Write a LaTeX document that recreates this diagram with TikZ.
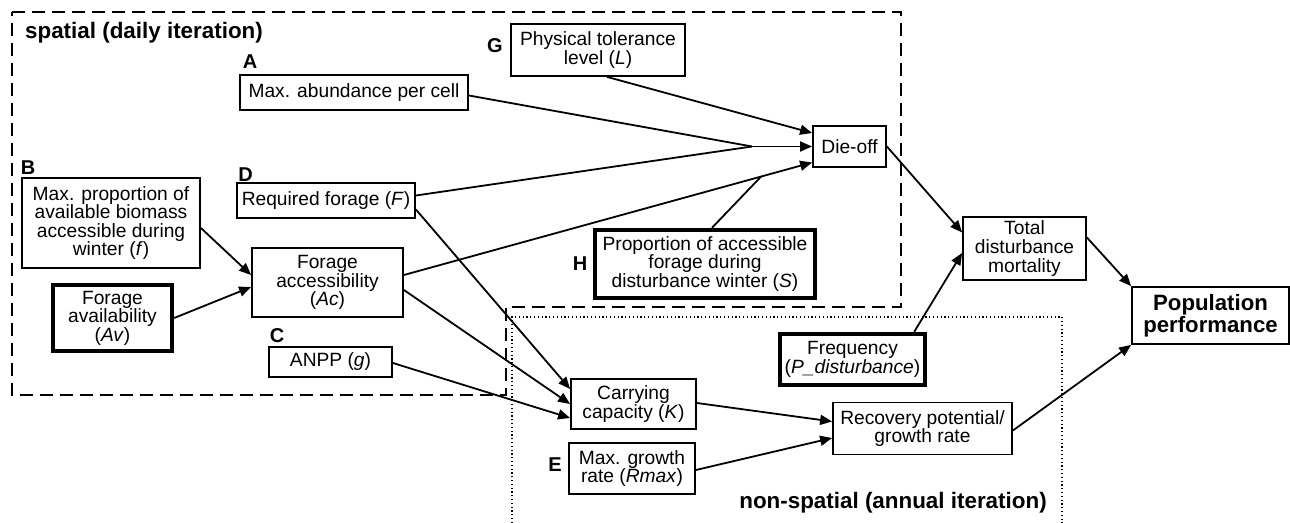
\documentclass[tikz,border=0pt]{standalone}
\usepackage{fontspec}
\setmainfont{Liberation Sans}
\usetikzlibrary{arrows.meta,calc}

\tikzset{
  box/.style={draw, line width=0.9pt, align=center, inner sep=1pt, font=\fontsize{9.6}{9.3}\selectfont},
  thickbox/.style={box, line width=2.2pt},
  arr/.style={-{Triangle[length=6pt,width=5pt]}, line width=0.9pt},
  tag/.style={font=\fontsize{10}{12}\selectfont\bfseries},
  region/.style={font=\fontsize{11.2}{13}\selectfont\bfseries},
}

\begin{document}
\begin{tikzpicture}[x=0.5pt,y=0.5pt,yscale=-1,xscale=1]
\useasboundingbox (0,0) rectangle (1290,523);
\draw [dashed, dash pattern=on 6.5pt off 3.5pt, line width=0.6pt] (12,12) -- (901,12) -- (901,307) -- (506,307) -- (506,395) -- (12,395) -- cycle;
\draw [dash pattern=on 0.6pt off 1.3pt, line width=0.6pt] (512,523) -- (512,317) -- (1062,317) -- (1062,523);
\node [region] (spatial) at (144,33) {spatial (daily iteration)};
\node [region] (nonspatial) at (893,503) {non-spatial (annual iteration)};

\node [box, minimum width=114pt, minimum height=17.5pt] (abund) at (354,92.5) {Max. abundance per cell};
\node [box, minimum width=87pt, minimum height=26pt] (tol) at (598,50) {Physical tolerance\\level (\textit{L})};
\node [box, minimum width=36.5pt, minimum height=20.5pt] (dieoff) at (849.5,146.5) {Die-off};
\node [box, minimum width=89pt, minimum height=45pt] (maxprop) at (111,223) {Max. proportion of\\available biomass\\accessible during\\winter (\textit{f})};
\node [box, minimum width=89pt, minimum height=17.5pt] (reqfor) at (326,200.5) {Required forage (\textit{F})};
\node [box, minimum width=75.5pt, minimum height=34.5pt] (access) at (327.5,282.5) {Forage\\accessibility\\(\textit{Ac})};
\node [thickbox, minimum width=59.5pt, minimum height=33pt] (avail) at (112.5,318) {Forage\\availability\\(\textit{Av})};
\node [box, minimum width=61.5pt, minimum height=15pt] (anpp) at (330.5,362) {ANPP (\textit{g})};
\node [thickbox, minimum width=110pt, minimum height=34pt] (snow) at (705,264) {Proportion of accessible\\forage during\\disturbance winter (\textit{S})};
\node [box, minimum width=62.5pt, minimum height=25pt] (carry) at (633.5,404) {Carrying\\capacity (\textit{K})};
\node [box, minimum width=63pt, minimum height=25.5pt] (rmax) at (632,468.5) {Max. growth\\rate (\textit{Rmax})};
\node [thickbox, minimum width=72.5pt, minimum height=25.5pt] (freq) at (852.5,359.5) {Frequency\\(\textit{P\_disturbance})};
\node [box, minimum width=89.5pt, minimum height=26pt] (recov) at (922.5,428.5) {Recovery potential/\\growth rate};
\node [box, minimum width=61.5pt, minimum height=31.5pt] (mort) at (1024.5,248.5) {Total\\disturbance\\mortality};
\node [box, minimum width=78.5pt, minimum height=28.5pt, font=\fontsize{11.1}{11.2}\selectfont\bfseries] (popperf) at (1210.5,315.5) {Population\\performance};

\node [tag] (tagA) at (250,62) {A};
\node [tag] (tagB) at (28,168) {B};
\node [tag] (tagC) at (277,336) {C};
\node [tag] (tagD) at (245.5,174.5) {D};
\node [tag] (tagE) at (555,465) {E};
\node [tag] (tagG) at (495,46) {G};
\node [tag] (tagH) at (580,264) {H};

\coordinate (merge) at (752,146.5);
\draw [line width=0.9pt] ($(abund.east)+(0,3)$) -- (merge);
\draw [line width=0.9pt] ($(reqfor.east)+(0,-5)$) -- (merge);
\draw [arr] (merge) -- (dieoff.west);
\draw [arr] ($(tol.south)+(9,0)$) -- ($(dieoff.west)+(0,-13.5)$);
\draw [arr] ($(access.east)+(0,-7.5)$) -- coordinate[pos=0.875] (sjoin) ($(dieoff.west)+(0,16)$);
\draw [line width=0.9pt] ($(snow.north)+(7,0)$) -- (sjoin);
\draw [arr] ($(maxprop.east)+(0,5)$) -- ($(access.west)+(0,-7.5)$);
\draw [arr] (avail.east) -- ($(access.west)+(0,4.5)$);
\draw [arr] ($(reqfor.east)+(0,9)$) -- ($(carry.west)+(0,-15)$);
\draw [arr] ($(access.east)+(0,7.5)$) -- (carry.west);
\draw [arr] ($(anpp.east)+(0,1)$) -- ($(carry.west)+(0,14)$);
\draw [arr] ($(carry.east)+(0,-1)$) -- ($(recov.west)+(0,-7)$);
\draw [arr] ($(rmax.east)+(0,1.5)$) -- ($(recov.west)+(0,9.5)$);
\draw [arr] ($(recov.east)+(0,2)$) -- (popperf.south west);
\draw [arr] (dieoff.east) -- ($(mort.west)+(0,-16)$);
\draw [arr] ($(freq.north east)+(-13,0)$) -- ($(mort.west)+(0,4.5)$);
\draw [arr] ($(mort.east)+(0,-11)$) -- (popperf.north west);
\end{tikzpicture}
\end{document}
